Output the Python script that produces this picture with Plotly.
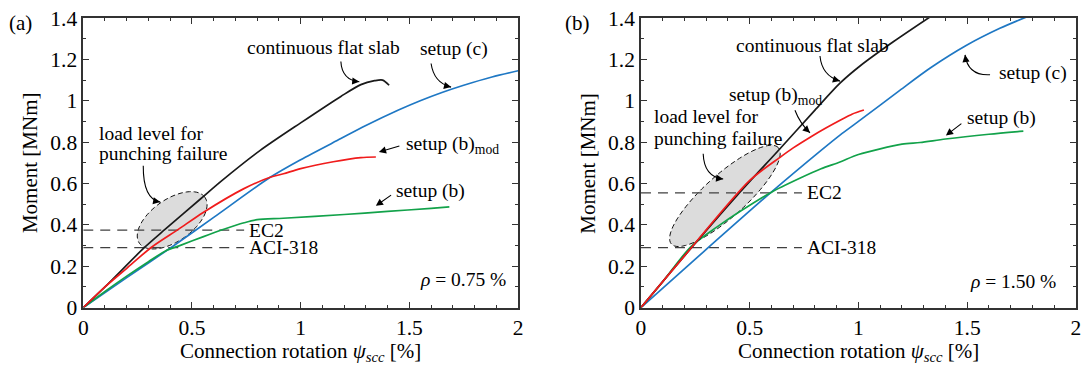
import numpy as np
import plotly.graph_objects as go

W, H = 1084, 369
FONT = "Liberation Serif"

# ---------------- data ----------------
# panel (a): rho = 0.75 %
a_black_x = [0, 0.1, 0.283, 0.376, 0.539, 0.639, 0.814, 1.0, 1.185, 1.277, 1.34, 1.377, 1.407]
a_black_y = [0, 0.1, 0.292, 0.378, 0.525, 0.615, 0.76, 0.893, 1.021, 1.078, 1.097, 1.1, 1.075]
a_blue_x = [0, 0.2, 0.406, 0.6, 0.86, 1.0, 1.185, 1.3, 1.45, 1.55, 1.65, 1.75, 1.88, 2.0]
a_blue_y = [0, 0.145, 0.292, 0.436, 0.63, 0.715, 0.817, 0.88, 0.955, 1.0, 1.04, 1.075, 1.115, 1.145]
a_red_x = [0, 0.1, 0.2, 0.314, 0.437, 0.552, 0.737, 0.86, 0.921, 1.0, 1.15, 1.277, 1.346]
a_red_y = [0, 0.1, 0.19, 0.292, 0.378, 0.46, 0.574, 0.63, 0.647, 0.672, 0.705, 0.725, 0.728]
a_green_x = [0, 0.1, 0.2, 0.3, 0.38, 0.45, 0.55, 0.65, 0.74, 0.8, 0.92, 1.2, 1.4, 1.6, 1.684]
a_green_y = [0, 0.078, 0.152, 0.222, 0.275, 0.302, 0.342, 0.38, 0.41, 0.425, 0.432, 0.45, 0.465, 0.48, 0.487]

# panel (b): rho = 1.50 %
b_black_x = [0, 0.2, 0.44, 0.639, 0.8, 0.915, 1.007, 1.16, 1.36]
b_black_y = [0, 0.25, 0.54, 0.768, 0.955, 1.085, 1.168, 1.285, 1.427]
b_red_x = [0, 0.2, 0.5, 0.644, 0.7, 0.78, 0.85, 0.92, 0.97, 1.025]
b_red_y = [0, 0.25, 0.615, 0.73, 0.772, 0.825, 0.868, 0.908, 0.935, 0.955]
b_blue_x = [0, 0.29, 0.598, 0.828, 0.915, 1.0, 1.19, 1.33, 1.497, 1.65, 1.796]
b_blue_y = [0, 0.272, 0.557, 0.76, 0.834, 0.9, 1.05, 1.158, 1.268, 1.35, 1.415]
b_green_x = [0, 0.1, 0.23, 0.35, 0.46, 0.598, 0.73, 0.828, 0.915, 1.0, 1.2, 1.283, 1.4, 1.6, 1.758]
b_green_y = [0, 0.125, 0.295, 0.39, 0.468, 0.557, 0.625, 0.671, 0.704, 0.74, 0.79, 0.798, 0.815, 0.838, 0.853]

# design-code load levels [MNm]
code_x = [0, 0.74]
ec2_level = [0.375, 0.555]     # panel a, panel b
aci_level = [0.29, 0.29]
rho_labels = ["<i>ρ</i> = 0.75 %", "<i>ρ</i> = 1.50 %"]
panel_labels = ["(a)", "(b)"]

x_ticks = [0, 0.5, 1, 1.5, 2]
y_ticks = [0, 0.2, 0.4, 0.6, 0.8, 1, 1.2, 1.4]

# ---------------- style ----------------
C_BLACK = "#1a1a1a"
C_BLUE = "#1f78c4"
C_RED = "#f01c1c"
C_GREEN = "#12a24a"
C_DASH = "#404040"

XD = [[0.0768, 0.4779], [0.5913, 0.9926]]
YD = [0.1664, 0.9512]
XR, YR = [0, 2], [0, 1.4]

fig = go.Figure()

panels = [
    dict(black=(a_black_x, a_black_y), blue=(a_blue_x, a_blue_y), red=(a_red_x, a_red_y),
         green=(a_green_x, a_green_y)),
    dict(black=(b_black_x, b_black_y), blue=(b_blue_x, b_blue_y), red=(b_red_x, b_red_y),
         green=(b_green_x, b_green_y)),
]

def axes_names(i):
    return ("x", "y") if i == 0 else ("x2", "y2")

for i, p in enumerate(panels):
    xa, ya = axes_names(i)
    for lvl in (ec2_level[i], aci_level[i]):
        fig.add_trace(go.Scatter(x=code_x, y=[lvl, lvl], mode="lines", xaxis=xa, yaxis=ya,
                                 line=dict(color=C_DASH, width=1.3, dash="10px,7px"),
                                 showlegend=False, hoverinfo="skip"))
    for key, col in (("blue", C_BLUE), ("green", C_GREEN), ("black", C_BLACK), ("red", C_RED)):
        xs, ys = p[key]
        fig.add_trace(go.Scatter(x=xs, y=ys, mode="lines", xaxis=xa, yaxis=ya,
                                 line=dict(color=col, width=1.7, shape="spline", smoothing=0.8),
                                 showlegend=False, hoverinfo="skip"))

def scales(i):
    sx = (XD[i][1] - XD[i][0]) * W / (XR[1] - XR[0])
    sy = (YD[1] - YD[0]) * H / (YR[1] - YR[0])
    return sx, sy

shapes = []
annotations = []

# ellipse "load level for punching failure": centre (data), semi-axes (px), angle (deg)
ellipses = [((0.409, 0.422), 40, 21, 35), ((0.386, 0.54), 72, 21, 42)]
for i, (c, a, b, ang) in enumerate(ellipses):
    xa, ya = axes_names(i)
    sx, sy = scales(i)
    t = np.linspace(0, 2 * np.pi, 73)
    th = np.deg2rad(ang)
    px = a * np.cos(t) * np.cos(th) - b * np.sin(t) * np.sin(th)
    py = a * np.cos(t) * np.sin(th) + b * np.sin(t) * np.cos(th)
    xs = c[0] + px / sx
    ys = c[1] + py / sy
    path = "M " + " L ".join(f"{x:.4f},{y:.4f}" for x, y in zip(xs, ys)) + " Z"
    shapes.append(dict(type="path", path=path, xref=xa, yref=ya, layer="below",
                       fillcolor="#dcdcdc", line=dict(color="#111", width=1, dash="5px,3px")))

# curved arrows: start, control, tip (data coords)
curved = [
    (0, (1.185, 1.19), (1.19, 1.10), (1.27, 1.092)),
    (0, (1.60, 1.18), (1.613, 1.086), (1.692, 1.066)),
    (0, (0.276, 0.686), (0.275, 0.525), (0.354, 0.51)),
    (1, (0.823, 1.216), (0.832, 1.12), (0.915, 1.095)),
    (1, (0.708, 0.954), (0.731, 0.89), (0.777, 0.845)),
    (1, (1.605, 1.126), (1.503, 1.12), (1.49, 1.222)),
    (1, (0.286, 0.744), (0.29, 0.632), (0.378, 0.622)),
]
for i, s, c, tp in curved:
    xa, ya = axes_names(i)
    sx, sy = scales(i)
    shapes.append(dict(type="path", xref=xa, yref=ya,
                       path=f"M {s[0]},{s[1]} Q {c[0]},{c[1]} {tp[0]},{tp[1]}",
                       line=dict(color="black", width=1.1)))
    dx = (tp[0] - c[0]) * sx
    dy = -(tp[1] - c[1]) * sy
    n = np.hypot(dx, dy)
    L = 7
    annotations.append(dict(x=tp[0], y=tp[1], xref=xa, yref=ya, text="", showarrow=True,
                            ax=-dx / n * L, ay=-dy / n * L, arrowhead=2, arrowsize=1.3,
                            arrowwidth=1.1, arrowcolor="black", standoff=0))

# straight arrows: tail, tip
straight = [
    (0, (1.461, 0.783), (1.36, 0.752)),
    (0, (1.423, 0.549), (1.346, 0.492)),
    (1, (1.48, 0.895), (1.402, 0.832)),
]
for i, s, tp in straight:
    xa, ya = axes_names(i)
    annotations.append(dict(x=tp[0], y=tp[1], xref=xa, yref=ya, text="", showarrow=True,
                            ax=s[0], ay=s[1], axref=xa, ayref=ya, arrowhead=2, arrowsize=1.3,
                            arrowwidth=1.1, arrowcolor="black", standoff=0))

TF = dict(family=FONT, size=19.5, color="black")

def txt(i, x, y, text, xanchor="center"):
    xa, ya = axes_names(i)
    annotations.append(dict(x=x, y=y, xref=xa, yref=ya, text=text, showarrow=False,
                            xanchor=xanchor, yanchor="middle", font=TF))

txt(0, 1.106, 1.257, "continuous flat slab")
txt(0, 1.706, 1.248, "setup (c)")
txt(0, 1.475, 0.785, "setup (b)<sub>mod</sub>", "left")
txt(0, 1.595, 0.565, "setup (b)")
txt(0, 0.063, 0.84, "load level for", "left")
txt(0, 0.063, 0.743, "punching failure", "left")
txt(0, 0.754, ec2_level[0], "EC2", "left")
txt(0, 0.754, aci_level[0], "ACI-318", "left")
txt(0, 1.954, 0.135, rho_labels[0], "right")
txt(1, 0.788, 1.265, "continuous flat slab")
txt(1, 0.394, 1.021, "setup (b)<sub>mod</sub>", "left")
txt(1, 1.635, 1.135, "setup (c)", "left")
txt(1, 1.49, 0.915, "setup (b)", "left")
txt(1, 0.049, 0.923, "load level for", "left")
txt(1, 0.049, 0.818, "punching failure", "left")
txt(1, 0.754, ec2_level[1], "EC2", "left")
txt(1, 0.754, aci_level[1], "ACI-318", "left")
txt(1, 1.917, 0.126, rho_labels[1], "right")

AF = dict(family=FONT, size=21, color="black")
for i in range(2):
    xc = (XD[i][0] + XD[i][1]) / 2
    annotations.append(dict(x=xc, y=1 - 352 / H, xref="paper", yref="paper", showarrow=False,
                            text="Connection rotation <i>ψ</i><sub><i>scc</i></sub> [%]",
                            xanchor="center", yanchor="middle", font=AF))
    annotations.append(dict(x=(XD[i][0] * W - 53) / W, y=(YD[0] + YD[1]) / 2, xref="paper",
                            yref="paper", showarrow=False, text="Moment [MNm]", textangle=-90,
                            xanchor="center", yanchor="middle", font=AF))
    annotations.append(dict(x=(XD[i][0] * W - 63) / W, y=1 - 22.7 / H, xref="paper",
                            yref="paper", showarrow=False, text=panel_labels[i],
                            xanchor="center", yanchor="middle", font=AF))

def axis(domain, rng, ticks, minor, anchor):
    return dict(domain=domain, range=rng, tickvals=ticks, anchor=anchor, automargin=False,
                ticks="inside", ticklen=6, tickwidth=1, tickcolor="#333",
                mirror="allticks", showline=True, linecolor="#333", linewidth=1.5,
                showgrid=False, zeroline=False,
                minor=dict(dtick=minor, ticks="inside", ticklen=3, tickcolor="#333",
                           showgrid=False),
                tickfont=dict(family=FONT, size=21.5, color="black"))

fig.update_layout(
    width=W, height=H, margin=dict(l=0, r=0, t=0, b=0, pad=0, autoexpand=False),
    paper_bgcolor="white", plot_bgcolor="white",
    xaxis=axis(XD[0], XR, x_ticks, 0.1, "y"),
    yaxis=axis(YD, YR, y_ticks, 0.1, "x"),
    xaxis2=axis(XD[1], XR, x_ticks, 0.1, "y2"),
    yaxis2=axis(YD, YR, y_ticks, 0.1, "x2"),
    shapes=shapes, annotations=annotations, showlegend=False,
)

fig.write_html("out.html")
